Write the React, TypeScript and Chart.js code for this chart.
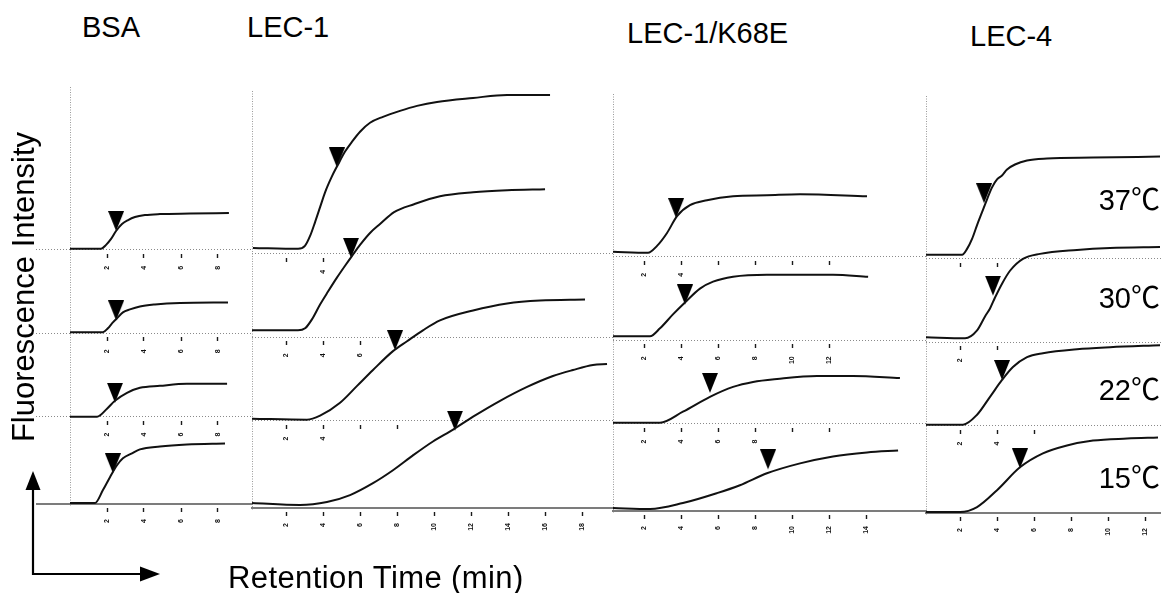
import React, { useEffect, useRef } from 'react';
import { Chart, registerables } from 'chart.js';

Chart.register(...registerables);

// ---------------- text ----------------
const PANEL_TITLES = ['BSA', 'LEC-1', 'LEC-1/K68E', 'LEC-4'];
const TEMPERATURES = ['37℃', '30℃', '22℃', '15℃'];
const Y_TITLE = 'Fluorescence Intensity';
const X_TITLE = 'Retention Time (min)';

// trace offsets (a.u.) for lanes 37, 30, 22, 15 ℃
const LANE_OFFSETS = [256, 172, 88, 0];

// ---------------- traces: [retention time (min), fluorescence (a.u.)] ----------------
const BSA_37 = [[0, 1], [1.68, 1], [1.95, 5], [2.22, 11], [2.49, 19], [2.81, 26], [3.14, 30], [3.51, 33], [4.05, 35], [4.86, 36], [6.49, 36.5], [8.59, 37]];
const BSA_30 = [[0, 1], [1.78, 1], [2.05, 5], [2.32, 11], [2.54, 15], [2.86, 21], [3.24, 24], [3.78, 27], [4.59, 29], [5.95, 30.5], [8.54, 31]];
const BSA_22 = [[0, 0], [1.46, 0], [2.0, 8], [2.43, 16], [3.08, 24], [3.78, 29], [4.86, 31], [6.32, 33], [8.49, 33]];
const BSA_15 = [[0, 1], [1.35, 1], [1.78, 14], [2.16, 27], [2.54, 39], [2.86, 46], [3.35, 51], [3.78, 55], [4.86, 58], [6.32, 60], [8.38, 61]];

const LEC1_37 = [[0.21, 6], [2.65, 5], [3.02, 8], [3.3, 18], [3.57, 32], [3.84, 47], [4.11, 62], [4.48, 78], [4.81, 90], [5.19, 103], [5.57, 113], [6.0, 123], [6.54, 132], [7.24, 138], [8.16, 144], [9.08, 149], [10.16, 153], [12.11, 157], [13.95, 160], [16.27, 160]];
const LEC1_30 = [[0.16, 7], [2.65, 7], [3.03, 9], [3.4, 18], [3.84, 33], [4.27, 46], [4.75, 60], [5.19, 72], [5.57, 82], [6.0, 93], [6.54, 105], [7.08, 114], [7.84, 126], [8.92, 134], [10.32, 142], [12.11, 146], [13.95, 148], [16.0, 149]];
const LEC1_22 = [[0.16, 2], [3.13, 1], [3.84, 5], [4.92, 18], [5.84, 35], [6.7, 51], [7.78, 70], [8.54, 80], [9.4, 91], [10.32, 101], [12.11, 111], [13.95, 118], [15.73, 121], [18.16, 122]];
const LEC1_15 = [[0.16, 5], [2.75, 3], [4.21, 6], [5.46, 13], [6.7, 25], [7.78, 38], [8.86, 53], [9.94, 67], [11.03, 79], [12.11, 92], [13.57, 108], [15.03, 122], [16.43, 133], [17.51, 139], [18.59, 144], [19.35, 145]];

const K68E_37 = [[0.32, 5], [2.21, 4], [2.7, 11], [3.24, 24], [3.78, 41], [4.48, 52], [5.4, 57], [6.81, 61], [8.64, 62], [10.43, 63], [14.05, 61]];
const K68E_30 = [[0.32, 4], [2.32, 4], [2.86, 12], [3.56, 26], [4.21, 38], [5.02, 52], [5.73, 59], [6.81, 64], [8.64, 66], [10.43, 66], [12.21, 66], [14.11, 64]];
const K68E_22 = [[0.32, 1], [2.86, 1], [4.1, 12], [5.56, 27], [6.81, 37], [7.89, 42], [9.19, 45], [11.35, 48], [13.29, 48], [15.83, 46]];
const K68E_15 = [[0.32, 3], [2.32, 2], [4.1, 8], [5.94, 18], [7.18, 26], [8.64, 38], [10.43, 48], [12.21, 55], [14.05, 59], [15.73, 61]];

const LEC4_37 = [[0.16, 4], [2.11, 4], [2.38, 10], [2.65, 20], [2.92, 34], [3.19, 47], [3.46, 60], [3.73, 72], [4.0, 80], [4.27, 84], [4.54, 90], [4.97, 95], [5.62, 99], [6.7, 101], [9.19, 102], [12.81, 103]];
const LEC4_30 = [[0.16, 5], [2.27, 4], [2.92, 12], [3.35, 26], [3.62, 34], [3.89, 45], [4.27, 59], [4.7, 72], [5.4, 84], [6.32, 89], [8.32, 93], [10.11, 95], [12.81, 96]];
const LEC4_22 = [[0.16, 1], [2.16, 1], [2.92, 11], [3.62, 29], [4.27, 46], [4.86, 59], [5.62, 69], [6.48, 73], [8.32, 77], [10.11, 79], [12.81, 81]];
const LEC4_15 = [[0.16, 1], [2.0, 1], [2.92, 6], [4.0, 23], [5.24, 46], [6.48, 60], [7.78, 68], [9.19, 73], [11.03, 75], [12.7, 76]];

// peak-position arrows [time (min), fluorescence (a.u.)], lanes 37, 30, 22, 15 ℃
const BSA_ARROWS = [[2.49, 19], [2.49, 13], [2.43, 14], [2.32, 31]];
const LEC1_ARROWS = [[4.75, 87], [5.51, 80], [7.89, 71], [11.13, 78]];
const K68E_ARROWS = [[3.73, 39], [4.21, 36], [5.56, 31], [8.7, 42]];
const LEC4_ARROWS = [[3.3, 56], [3.78, 47], [4.27, 46], [5.24, 45]];

// tick marks (min) and which of them carry labels, per lane
const BSA_TICKS = [[2, 4, 6, 8], [2, 4, 6, 8], [2, 4, 6, 8], [2, 4, 6, 8]];
const BSA_LABELS = [[2, 4, 6, 8], [2, 4, 6, 8], [2, 4, 6, 8], [2, 4, 6, 8]];
const LEC1_TICKS = [[2, 4], [2, 4, 6], [2, 4, 6, 8], [2, 4, 6, 8, 10, 12, 14, 16, 18]];
const LEC1_LABELS = [[4], [2, 4, 6], [2, 4], [2, 4, 6, 8, 10, 12, 14, 16, 18]];
const K68E_TICKS = [[2, 4, 6, 8, 10, 12], [2, 4, 6, 8, 10, 12], [2, 4, 6, 8, 10, 12], [2, 4, 6, 8, 10, 12, 14]];
const K68E_LABELS = [[2, 4], [2, 4, 6, 8, 10, 12], [2, 4, 6, 8], [2, 4, 6, 8, 10, 12, 14]];
const LEC4_TICKS = [[2, 4], [2, 4], [2, 4, 6], [2, 4, 6, 8, 10, 12]];
const LEC4_LABELS = [[], [2], [2, 4], [2, 4, 6, 8, 10, 12]];

// ---------------- layout (not data) ----------------
const W = 1161;
const H = 593;
const PX_PER_MIN = 18.5;
const Y_MAX = 420;
const Y_MIN = -2;
const PAD_TOP = 4;
const PAD_BOTTOM = 46;
const PAD_RIGHT = 14;
const FONT = '"Liberation Sans", Arial, Helvetica, "Noto Sans CJK JP", sans-serif';

const PANELS = [
  { axisX: 70, right: 252, baseY: 504, lead: 34, ext: true, tMin: 0, curves: [BSA_37, BSA_30, BSA_22, BSA_15], arrows: BSA_ARROWS, ticks: BSA_TICKS, labels: BSA_LABELS },
  { axisX: 252, right: 613, baseY: 508, lead: 14, ext: false, tMin: 0.16, curves: [LEC1_37, LEC1_30, LEC1_22, LEC1_15], arrows: LEC1_ARROWS, ticks: LEC1_TICKS, labels: LEC1_LABELS },
  { axisX: 613, right: 926, baseY: 511, lead: 14, ext: false, tMin: 0.32, curves: [K68E_37, K68E_30, K68E_22, K68E_15], arrows: K68E_ARROWS, ticks: K68E_TICKS, labels: K68E_LABELS },
  { axisX: 926, right: 1161, baseY: 513, lead: 14, ext: false, tMin: 0.16, curves: [LEC4_37, LEC4_30, LEC4_22, LEC4_15], arrows: LEC4_ARROWS, ticks: LEC4_TICKS, labels: LEC4_LABELS },
];

const TITLE_POS = [
  { left: 82, baseline: 38 },
  { left: 247, baseline: 38 },
  { left: 627, baseline: 44 },
  { left: 970, baseline: 47 },
];
const TEMP_BASELINES = [211, 309, 401, 489];

const LANE_IDS = ['x37', 'x30', 'x22', 'x15'];
const BASE_COLOR = '#7c7c7c';
const DOT_COLOR = '#8a8a8a';
const FRAME_COLOR = '#9a9a9a';

function makeArrowMarker(): HTMLCanvasElement {
  const c = document.createElement('canvas');
  c.width = 16;
  c.height = 40;
  const g = c.getContext('2d')!;
  g.fillStyle = '#000';
  g.beginPath();
  g.moveTo(0, 0);
  g.lineTo(16, 0);
  g.lineTo(8, 20);
  g.closePath();
  g.fill();
  return c;
}

function Panel({ cfg }: { cfg: any }) {
  const ref = useRef<HTMLCanvasElement>(null);
  const width = cfg.right - cfg.axisX + cfg.lead + PAD_RIGHT;
  const height = Y_MAX - Y_MIN + PAD_TOP + PAD_BOTTOM;
  const left = cfg.axisX - cfg.lead;
  const top = cfg.baseY - Y_MAX - PAD_TOP;

  useEffect(() => {
    const canvas = ref.current!;
    const marker = makeArrowMarker();
    const tMax = cfg.tMin + (cfg.right - cfg.axisX) / PX_PER_MIN;
    const isBase = (c: any) => c && c.tick && c.tick.value === 0;

    const scales: any = {
      y: {
        type: 'linear',
        position: 'left',
        min: Y_MIN,
        max: Y_MAX,
        afterBuildTicks: (s: any) => {
          s.ticks = [...LANE_OFFSETS].sort((a, b) => a - b).map((v) => ({ value: v }));
        },
        afterFit: (s: any) => {
          s.width = cfg.lead;
        },
        ticks: { display: false },
        grid: {
          display: true,
          drawOnChartArea: true,
          drawTicks: cfg.ext,
          tickLength: cfg.lead,
          color: (c: any) => (isBase(c) ? BASE_COLOR : DOT_COLOR),
          lineWidth: (c: any) => (isBase(c) ? 2 : 1),
          tickColor: (c: any) => (isBase(c) ? BASE_COLOR : DOT_COLOR),
          tickWidth: (c: any) => (isBase(c) ? 2 : 1),
          tickBorderDash: (c: any) => (isBase(c) ? [] : [1, 2]),
        },
        border: {
          display: false,
          dash: (c: any) => (c && c.type === 'tick' && !isBase(c) ? [1, 2] : []),
        },
      },
      // dotted vertical frame line at the start of each panel's time axis
      frame: {
        type: 'linear',
        axis: 'x',
        position: { y: 0 },
        min: cfg.tMin,
        max: tMax,
        afterBuildTicks: (s: any) => {
          s.ticks = [{ value: cfg.tMin }];
        },
        ticks: { display: false },
        grid: { display: true, drawOnChartArea: true, drawTicks: false, color: FRAME_COLOR, lineWidth: 1 },
        border: { display: false, dash: [1, 1.5] },
      },
    };

    const datasets: any[] = [];
    LANE_IDS.forEach((id, i) => {
      const tickVals: number[] = cfg.ticks[i];
      const labelVals: number[] = cfg.labels[i];
      const isBottomLane = LANE_OFFSETS[i] === 0;
      scales[id] = {
        type: 'linear',
        axis: 'x',
        position: { y: LANE_OFFSETS[i] },
        min: cfg.tMin,
        max: tMax,
        afterBuildTicks: (s: any) => {
          s.ticks = tickVals.map((v) => ({ value: v }));
        },
        border: { display: isBottomLane, color: BASE_COLOR, width: 2 },
        grid: {
          display: true,
          drawOnChartArea: false,
          drawTicks: true,
          tickLength: 8,
          tickColor: '#1a1a1a',
          tickWidth: 1.4,
          tickBorderDash: isBottomLane ? [0, 3, 4, 30] : [0, 4, 4, 30],
        },
        ticks: {
          display: true,
          autoSkip: false,
          minRotation: 90,
          maxRotation: 90,
          padding: isBottomLane ? 7 : 8,
          color: '#111',
          font: { family: FONT, size: 7, weight: 'bold' },
          callback: (v: any) => (labelVals.includes(Number(v)) ? String(v) : ''),
        },
      };
      datasets.push({
        data: cfg.curves[i].map(([t, v]: number[]) => ({ x: t, y: v + LANE_OFFSETS[i] })),
        xAxisID: id,
        yAxisID: 'y',
        showLine: true,
        borderColor: '#111',
        borderWidth: 2,
        pointRadius: 0,
        fill: false,
        cubicInterpolationMode: 'monotone',
      });
      datasets.push({
        data: [{ x: cfg.arrows[i][0], y: cfg.arrows[i][1] + LANE_OFFSETS[i] }],
        xAxisID: id,
        yAxisID: 'y',
        showLine: false,
        pointStyle: marker,
        pointRadius: 6,
        backgroundColor: '#000',
        borderColor: '#000',
      });
    });

    const chart = new Chart(canvas, {
      type: 'scatter',
      data: { datasets },
      options: {
        responsive: false,
        devicePixelRatio: 1,
        animation: false,
        events: [],
        layout: { padding: { top: PAD_TOP, bottom: PAD_BOTTOM, left: 0, right: PAD_RIGHT } },
        plugins: {
          legend: { display: false },
          tooltip: { enabled: false },
          title: { display: false },
        },
        scales,
      } as any,
    } as any);
    return () => chart.destroy();
  }, []);

  return (
    <canvas
      ref={ref}
      width={width}
      height={height}
      style={{ position: 'absolute', left, top, width, height }}
    />
  );
}

const textBase: React.CSSProperties = {
  position: 'absolute',
  fontFamily: FONT,
  color: '#000',
  whiteSpace: 'nowrap',
  lineHeight: 1,
  margin: 0,
};

function baselineTop(baseline: number, fs: number) {
  return baseline - 0.8465 * fs;
}

export default function App() {
  const titleFs = 29;
  const tempFs = 29;
  const axisFs = 31;
  return (
    <div
      style={{
        position: 'fixed',
        left: 0,
        top: 0,
        width: W,
        height: H,
        background: '#fff',
        overflow: 'hidden',
      }}
    >
      {PANELS.map((p, i) => (
        <Panel key={i} cfg={p} />
      ))}

      {PANEL_TITLES.map((t, i) => (
        <div
          key={t}
          style={{ ...textBase, fontSize: titleFs, left: TITLE_POS[i].left, top: baselineTop(TITLE_POS[i].baseline, titleFs) }}
        >
          {t}
        </div>
      ))}

      {TEMPERATURES.map((t, i) => (
        <div
          key={t}
          style={{ ...textBase, fontSize: tempFs, right: 1, top: baselineTop(TEMP_BASELINES[i], tempFs) }}
        >
          {t}
        </div>
      ))}

      <div style={{ ...textBase, fontSize: axisFs, letterSpacing: 0.4, left: 228, top: baselineTop(588, axisFs) }}>{X_TITLE}</div>

      <div
        style={{
          ...textBase,
          fontSize: axisFs,
          left: 23,
          top: 287,
          transform: 'translate(-50%, -50%) rotate(-90deg)',
        }}
      >
        {Y_TITLE}
      </div>

      <svg
        width={W}
        height={H}
        style={{ position: 'absolute', left: 0, top: 0, pointerEvents: 'none' }}
      >
        <line x1={33} y1={575} x2={33} y2={488} stroke="#000" strokeWidth={2.2} />
        <polygon points="25.5,490 40.5,490 33,471" fill="#000" />
        <line x1={32} y1={574} x2={142} y2={574} stroke="#000" strokeWidth={2.2} />
        <polygon points="140,566.5 140,581.5 160,574" fill="#000" />
      </svg>
    </div>
  );
}
